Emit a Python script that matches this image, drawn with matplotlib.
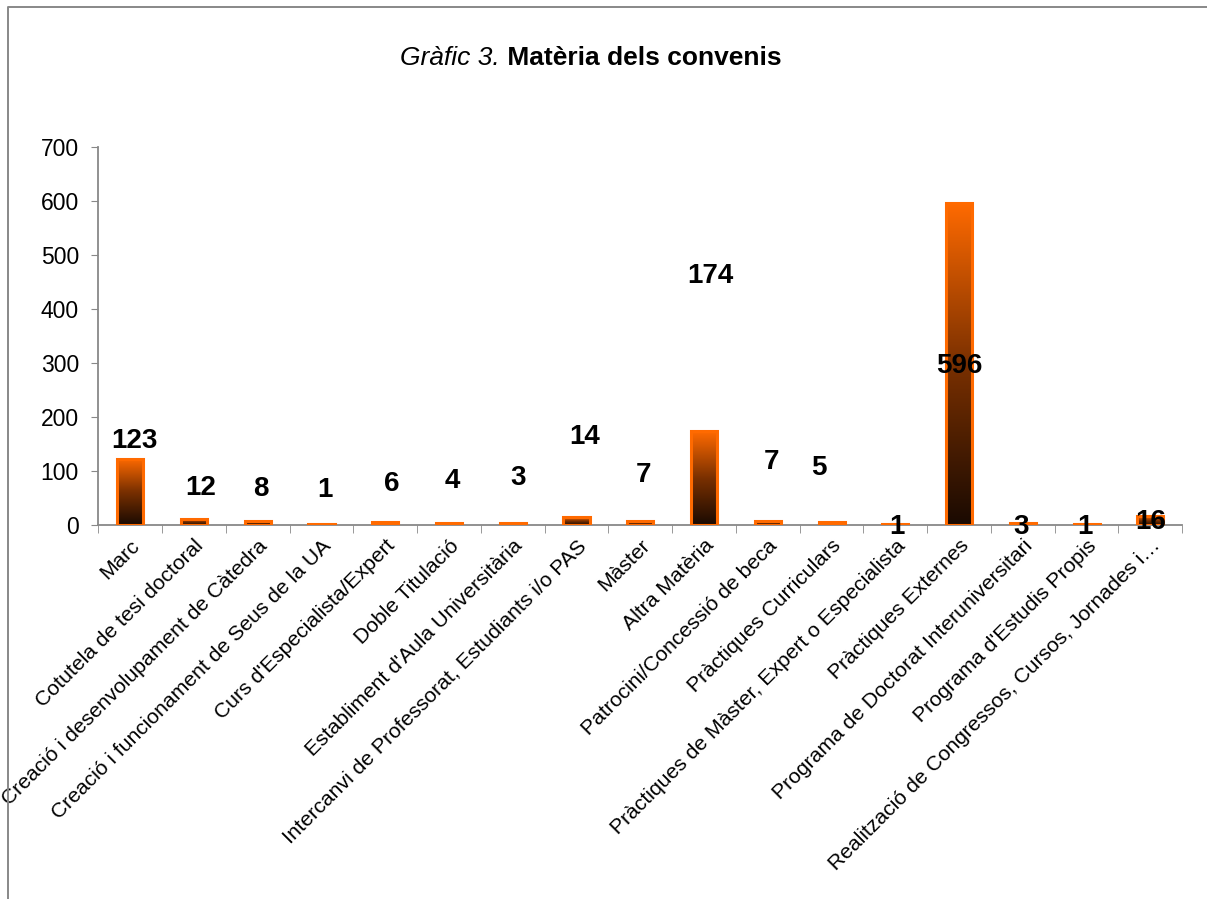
"""Gràfic 3 - Matèria dels convenis."""

import matplotlib
matplotlib.use("Agg")
import matplotlib.pyplot as plt
import numpy as np
from matplotlib.colors import LinearSegmentedColormap
from matplotlib.lines import Line2D
from matplotlib.patches import Rectangle

plt.rcParams["font.family"] = ["Liberation Sans", "DejaVu Sans"]

categories = [
    "Marc",
    "Cotutela de tesi doctoral",
    "Creació i desenvolupament de Càtedra",
    "Creació i funcionament de Seus de la UA",
    "Curs d'Especialista/Expert",
    "Doble Titulació",
    "Establiment d'Aula Universitària",
    "Intercanvi de Professorat, Estudiants i/o PAS",
    "Màster",
    "Altra Matèria",
    "Patrocini/Concessió de beca",
    "Pràctiques Curriculars",
    "Pràctiques de Màster, Expert o Especialista",
    "Pràctiques Externes",
    "Programa de Doctorat Interuniversitari",
    "Programa d'Estudis Propis",
    "Realització de Congressos, Cursos, Jornades i…",
]
values = [123, 12, 8, 1, 6, 4, 3, 14, 7, 174, 7, 5, 1, 596, 3, 1, 16]

# where the data labels sit (value units), as in the original chart
label_y = [155, 68, 67, 65, 76, 81, 87, 163, 93, 461, 117, 106, -4, 294, -4, -4, 6]
label_dx = [0.06, 0.1, 0.05, 0.05, 0.1, 0.05, 0.08, 0.12, 0.05, 0.1, 0.05, -0.2, 0.02, 0, -0.02, -0.02, 0]

fig = plt.figure(figsize=(12.07, 8.99), dpi=100)
ax = fig.add_axes([0.0815, 0.416, 0.898, 0.4205])

# outer border of the chart area (left and top edges only)
fig.lines.append(Line2D([0.0066, 0.0066, 1.0], [0.0, 0.992, 0.992],
                        transform=fig.transFigure, color="#888888", lw=1.4))

cmap = LinearSegmentedColormap.from_list("grad", ["#1a0a02", "#7a3000", "#ff6a00"])
grad = np.linspace(0, 1, 256).reshape(-1, 1)
width = 0.41
x = np.arange(len(categories))

for i, v in enumerate(values):
    ax.imshow(grad, cmap=cmap, origin="lower", aspect="auto",
              extent=(x[i] - width / 2, x[i] + width / 2, 0, v), zorder=2)
    ax.add_patch(Rectangle((x[i] - width / 2, 0), width, v, fill=False,
                           edgecolor="#ff6a00", lw=2.2, zorder=3))
    ax.text(x[i] + label_dx[i], label_y[i], str(v), ha="center", va="center",
            fontsize=20, fontweight="bold", color="black", zorder=5)

ax.set_xlim(-0.5, len(categories) - 0.5)
ax.set_ylim(0, 700)
ax.set_yticks(np.arange(0, 701, 100))
ax.tick_params(axis="y", labelsize=16.5, direction="out", length=5, pad=9,
               color="#888888")

ax.set_xticks(x)
ax.set_xticklabels(categories, rotation=45, ha="right", rotation_mode="anchor",
                   fontsize=15.2)
ax.tick_params(axis="x", length=0, pad=8)
ax.set_xticks(np.arange(-0.5, len(categories), 1), minor=True)
ax.tick_params(axis="x", which="minor", length=6, direction="out", color="#888888")

for s in ["top", "right"]:
    ax.spines[s].set_visible(False)
for s in ["left", "bottom"]:
    ax.spines[s].set_color("#888888")
    ax.spines[s].set_linewidth(1.3)

t1 = fig.text(0.3315, 0.936, "Gràfic 3.", fontsize=19, style="italic",
              ha="left", va="center")
ax.annotate(" Matèria dels convenis", xy=(1, 0), xycoords=t1, va="bottom",
            fontsize=19, fontweight="bold")

fig.savefig("out.png", dpi=100)
